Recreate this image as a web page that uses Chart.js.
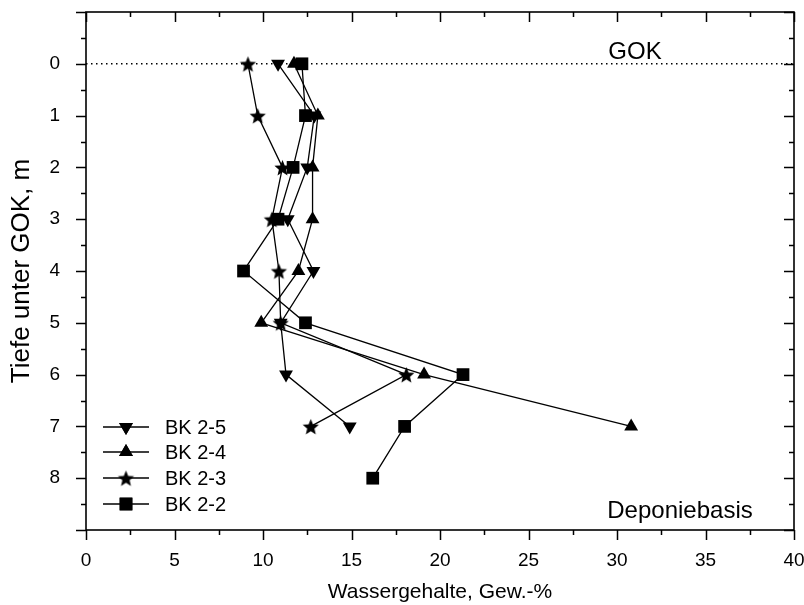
<!DOCTYPE html>
<html>
<head>
<meta charset="utf-8">
<script src="https://cdn.jsdelivr.net/npm/chart.js@4/dist/chart.umd.min.js"></script>
<style>
    html, body { margin: 0; padding: 0; background: #fff; }
    #wrap { width: 804px; height: 605px; }
</style>
</head>
<body>
<div id="wrap"><canvas id="chart" width="804" height="605"></canvas></div>
<script>
// depth below GOK (m) and water contents (Gew.-%) per borehole
const depths = [0, 1, 2, 3, 4, 5, 6, 7, 8]
const bk25 = [10.85, 12.9, 12.5, 11.4, 12.85, 11.0, 11.3, 14.9]
const bk24 = [11.75, 13.1, 12.8, 12.8, 12.0, 9.9, 19.1, 30.8]
const bk23 = [9.15, 9.7, 11.1, 10.5, 10.9, 11.0, 18.1, 12.7]
const bk22 = [12.2, 12.4, 11.7, 10.85, 8.9, 12.4, 21.3, 18.0, 16.2]
const seriesNames = ["BK 2-5", "BK 2-4", "BK 2-3", "BK 2-2"]

const FONT = "'Liberation Sans', Arial, sans-serif"

// filled five point star, used as point image
function makeStar(outer, inner) {
    const size = Math.ceil(outer * 2 + 2)
    const c = document.createElement("canvas")
    c.width = size
    c.height = size
    const ctx = c.getContext("2d")
    ctx.fillStyle = "#000"
    ctx.beginPath()
    for (let i = 0; i < 10; i++) {
        const r = i % 2 === 0 ? outer : inner
        const a = -Math.PI / 2 + i * Math.PI / 5
        const px = size / 2 + r * Math.cos(a)
        const py = size / 2 + 1 + r * Math.sin(a)
        if (i === 0) ctx.moveTo(px, py)
        else ctx.lineTo(px, py)
    }
    ctx.closePath()
    ctx.fill()
    return c
}
const starImg = makeStar(8.5, 3.8)

function toPoints(values) {
    return values.map((v, i) => ({ x: v, y: depths[i] }))
}

function series(label, values, style, radius, rotation) {
    return {
        label: label,
        data: toPoints(values),
        showLine: true,
        borderColor: "#000",
        borderWidth: 1.3,
        backgroundColor: "#000",
        pointStyle: style,
        pointRadius: radius,
        pointHoverRadius: radius,
        pointRotation: rotation || 0,
        pointBorderWidth: 0,
        pointBackgroundColor: "#000",
        pointBorderColor: "#000"
    }
}

const datasets = [
    series(seriesNames[0], bk25, "triangle", 8, 180),
    series(seriesNames[1], bk24, "triangle", 8, 0),
    series(seriesNames[2], bk23, starImg, 9, 0),
    series(seriesNames[3], bk22, "rect", 9, 0)
]

// frame, inward/outward ticks, GOK line, labels and legend
const decorPlugin = {
    id: "decor",
    beforeDatasetsDraw(chart) {
        const { ctx, chartArea: a, scales: { y } } = chart
        const y0 = y.getPixelForValue(0)
        ctx.save()
        ctx.strokeStyle = "#000"
        ctx.lineWidth = 1.5
        ctx.setLineDash([1.5, 3.5])
        ctx.beginPath()
        ctx.moveTo(a.left, y0)
        ctx.lineTo(a.right, y0)
        ctx.stroke()
        ctx.restore()
    },
    afterDatasetsDraw(chart) {
        const { ctx, chartArea: a, scales: { x, y } } = chart
        ctx.save()
        ctx.strokeStyle = "#000"
        ctx.lineWidth = 1.6
        ctx.strokeRect(a.left, a.top, a.right - a.left, a.bottom - a.top)

        ctx.lineWidth = 1.5
        ctx.beginPath()
        for (let v = 0; v <= 40; v += 2.5) {
            const px = Math.round(x.getPixelForValue(v)) + 0.5
            const len = v % 5 === 0 ? 10 : 5
            ctx.moveTo(px, a.bottom)
            ctx.lineTo(px, a.bottom + len)
            ctx.moveTo(px, a.top)
            ctx.lineTo(px, a.top + len)
        }
        for (let v = -1; v <= 9; v += 0.5) {
            const py = Math.round(y.getPixelForValue(v)) + 0.5
            const len = v % 1 === 0 ? 10 : 5
            ctx.moveTo(a.left, py)
            ctx.lineTo(a.left - len, py)
            ctx.moveTo(a.right, py)
            ctx.lineTo(a.right - len, py)
        }
        ctx.stroke()

        // annotations
        ctx.fillStyle = "#000"
        ctx.font = "24px " + FONT
        ctx.textAlign = "center"
        ctx.textBaseline = "alphabetic"
        ctx.fillText("GOK", 635, 59)
        ctx.fillText("Deponiebasis", 680, 518)

        // legend inside the plot, lower left
        const rows = [427, 452, 478, 504]
        ctx.font = "20px " + FONT
        ctx.textAlign = "left"
        ctx.textBaseline = "middle"
        chart.data.datasets.forEach((ds, i) => {
            const ly = rows[i]
            ctx.lineWidth = 1.3
            ctx.beginPath()
            ctx.moveTo(103, ly)
            ctx.lineTo(149, ly)
            ctx.stroke()
            Chart.helpers.drawPoint(ctx, {
                pointStyle: ds.pointStyle,
                radius: ds.pointRadius,
                rotation: ds.pointRotation,
                borderWidth: 0
            }, 126, ly)
            ctx.fill()
            ctx.fillText(ds.label, 165, ly + 1)
        })
        ctx.restore()
    }
}

new Chart(document.getElementById("chart"), {
    type: "scatter",
    data: { datasets: datasets },
    options: {
        responsive: false,
        animation: false,
        events: [],
        layout: { padding: { top: 12, right: 10, left: 0, bottom: 0 } },
        plugins: {
            legend: { display: false },
            tooltip: { enabled: false }
        },
        scales: {
            x: {
                type: "linear",
                position: "bottom",
                min: 0,
                max: 40,
                grid: { display: false },
                border: { display: false },
                ticks: {
                    stepSize: 5,
                    color: "#000",
                    padding: 11,
                    font: { family: FONT, size: 19 },
                    maxRotation: 0
                },
                title: {
                    display: true,
                    text: "Wassergehalte, Gew.-%",
                    color: "#000",
                    font: { family: FONT, size: 21 },
                    padding: { top: 0, bottom: 0 }
                },
                afterFit(scale) {
                    scale.height = 75
                    scale.paddingLeft = 0
                    scale.paddingRight = 0
                }
            },
            y: {
                type: "linear",
                position: "left",
                reverse: true,
                min: -1,
                max: 9,
                grid: { display: false },
                border: { display: false },
                ticks: {
                    stepSize: 1,
                    color: "#000",
                    padding: 18,
                    font: { family: FONT, size: 19 }
                },
                afterBuildTicks(scale) {
                    scale.ticks = scale.ticks.filter(t => t.value >= 0 && t.value <= 8)
                },
                title: {
                    display: true,
                    text: "Tiefe unter GOK, m",
                    color: "#000",
                    font: { family: FONT, size: 26 },
                    padding: { top: 6, bottom: 0 }
                },
                afterFit(scale) {
                    scale.width = 86
                    scale.paddingTop = 0
                    scale.paddingBottom = 0
                }
            }
        }
    },
    plugins: [decorPlugin]
})
</script>
</body>
</html>
